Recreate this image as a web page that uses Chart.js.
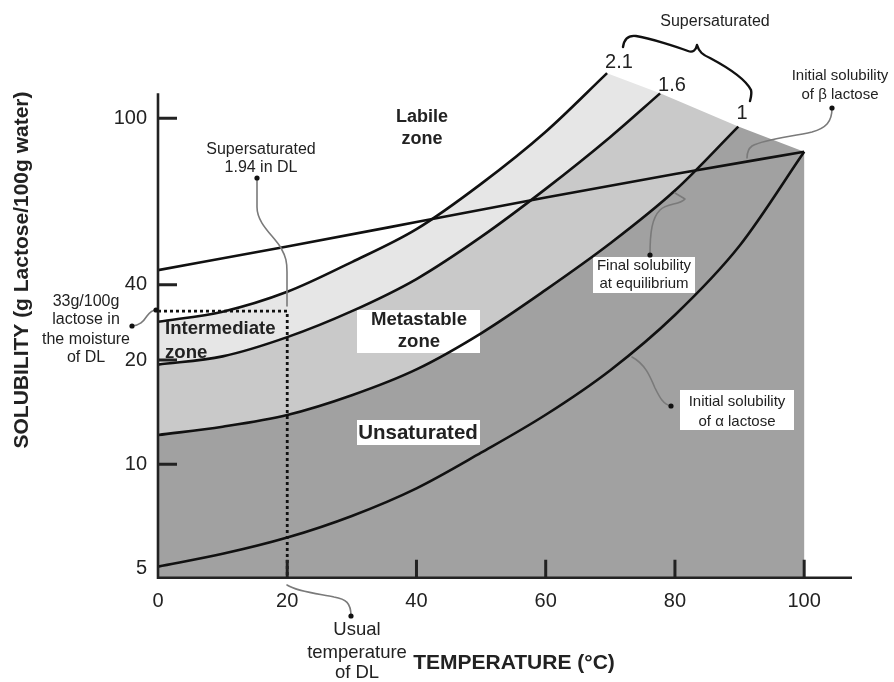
<!DOCTYPE html>
<html>
<head>
<meta charset="utf-8">
<title>Lactose solubility</title>
<script src="https://cdn.jsdelivr.net/npm/chart.js@4.4.0/dist/chart.umd.min.js"></script>
<style>
    body { margin: 0; background: #fff; }
    #wrap { position: relative; width: 894px; height: 682px; }
</style>
</head>
<body>
<div id="wrap"><canvas id="myChart"></canvas></div>
<script>
/*        values: °C against g lactose / 100 g water        */

const alphaTemps = [0, 10, 20, 30, 40, 50, 60, 70, 80, 90, 100];
const alphaSolubility = [5.06, 5.51, 6.14, 7.09, 8.52, 10.8, 13.9, 18.7, 27.0, 42.8, 80];

const eqTemps = [0, 10, 20, 30, 40, 50, 60, 70, 80, 89.8];
const eqSolubility = [12.15, 12.84, 13.88, 15.83, 18.8, 23.9, 31.9, 43.5, 61.8, 94.6];

const ss16Temps = [0, 10, 20, 30, 40, 50, 60, 70, 77.7];
const ss16Solubility = [19.4, 20.5, 23.3, 27.7, 34.3, 45.4, 62.5, 88.3, 118];

const ss21Temps = [0, 10, 20, 30, 40, 50, 60, 69.5];
const ss21Solubility = [25.8, 27.6, 31.5, 38.4, 47.8, 64.6, 91.4, 135];

const betaTemps = [0, 20, 40, 60, 80, 100];
const betaSolubility = [36.4, 42.6, 50.1, 59.0, 69.0, 80];

// dried lactose point (20 °C, supersaturated 1.94)
const dlTemp = 20;
const dlSolubility = 27.7;

const xTicks = [0, 20, 40, 60, 80, 100];
// the printed "40" sits lower than a true log position on the original axis
const yTickAt = [5, 10, 20, 33, 100];
const yTickLabels = ['5', '10', '20', '40', '100'];

const xMax = 107.4;
const yMin = 4.7;
const yMax = 145;
const yAxisTop = 118;

const FONT = '"Liberation Sans", Arial, sans-serif';

function pts(xs, ys) {
    return xs.map(function (x, i) { return {x: x, y: ys[i]}; });
}

function curve(data, order) {
    return {data: data, borderColor: '#111', borderWidth: 2.6, fill: false,
        pointRadius: 0, cubicInterpolationMode: 'monotone', tension: 0.4, order: order};
}

// dataset indexes
const ALPHA = 0, EQ = 1, SS16 = 2, SS21 = 3;

// shaded zones: area under a curve, capped straight across to the end of the next curve down
const bands = [
    {top: SS21, capTo: SS16, color: '#e6e6e6'},
    {top: SS16, capTo: EQ, color: '#c9c9c9'},
    {top: EQ, capTo: ALPHA, color: '#a1a1a1'}
];

/*        annotation layer         */

const boxes = [[357, 310, 123, 43], [357, 420, 123, 25], [593, 257, 102, 36], [680, 390, 114, 40]];

const notes = [
    {t: 'Supersaturated', x: 715, y: 22, s: 16},
    {t: '2.1', x: 619, y: 62, s: 20}, {t: '1.6', x: 672, y: 85, s: 20}, {t: '1', x: 742, y: 113, s: 20},
    {t: 'Initial solubility', x: 840, y: 76, s: 15}, {t: 'of \u03b2 lactose', x: 840, y: 95, s: 15},
    {t: 'Labile', x: 422, y: 117, s: 18, b: true}, {t: 'zone', x: 422, y: 139, s: 18, b: true},
    {t: 'Supersaturated', x: 261, y: 150, s: 16}, {t: '1.94 in DL', x: 261, y: 168, s: 16},
    {t: '33g/100g', x: 86, y: 302, s: 16}, {t: 'lactose in', x: 86, y: 320, s: 16},
    {t: 'the moisture', x: 86, y: 340, s: 16}, {t: 'of DL', x: 86, y: 358, s: 16},
    {t: 'Intermediate', x: 165, y: 329, s: 18.6, b: true, a: 'left'},
    {t: 'zone', x: 165, y: 353, s: 18.6, b: true, a: 'left'},
    {t: 'Metastable', x: 419, y: 320, s: 18.6, b: true}, {t: 'zone', x: 419, y: 342, s: 18.6, b: true},
    {t: 'Unsaturated', x: 418, y: 433, s: 20.5, b: true},
    {t: 'Final solubility', x: 644, y: 266, s: 15}, {t: 'at equilibrium', x: 644, y: 284, s: 15},
    {t: 'Initial solubility', x: 737, y: 402, s: 15}, {t: 'of \u03b1 lactose', x: 737, y: 422, s: 15},
    {t: 'Usual', x: 357, y: 630, s: 18.5}, {t: 'temperature', x: 357, y: 653, s: 18.5},
    {t: 'of DL', x: 357, y: 673, s: 18.5}
];

const leaders = [
    'M257 178 L257 207 C257 224 274 236 281 248 C286 257 287 262 287 272 L287 306',
    'M132 326 C140 325 143 322 147 316 C150 312 152 310 156 310',
    'M287 585 C298 592 320 594 334 597 C346 599 351 603 351 616',
    'M650 255 C650 232 652 218 660 210 C667 203 680 205 685 199 L675 193',
    'M671 406 C663 404 660 398 655 388 C650 376 645 364 632 357',
    'M832 108 C832 122 826 128 812 132 C790 137 765 139 752 146 C748 149 747 152 747 158'
];
const brace = 'M623 47 C624 40 628 35 636 36 C650 38 680 48 688 51 C693 53 696 50 697 45 ' +
    'C699 52 703 55 710 58 C725 66 745 78 751 90 C752 94 751 97 750 101';
const dots = [[257, 178], [132, 326], [156, 310], [351, 616], [650, 255], [671, 406], [832, 108]];

let overlay = {
    id: 'overlay',
    beforeDatasetsDraw: function (chart) {
        let ctx = chart.ctx;
        let area = chart.chartArea;
        ctx.save();
        bands.forEach(function (b) {
            let line = chart.getDatasetMeta(b.top).dataset;
            let first = chart.getDatasetMeta(b.top).data[0];
            let capPts = chart.getDatasetMeta(b.capTo).data;
            let cap = capPts[capPts.length - 1];
            line.updateControlPoints(area, 'x');
            ctx.beginPath();
            line.path(ctx);
            ctx.lineTo(cap.x, cap.y);
            ctx.lineTo(cap.x, area.bottom);
            ctx.lineTo(first.x, area.bottom);
            ctx.closePath();
            ctx.fillStyle = b.color;
            ctx.fill();
        });
        ctx.fillStyle = '#fff';
        boxes.forEach(function (b) { ctx.fillRect(b[0], b[1], b[2], b[3]); });
        ctx.restore();
    },
    afterDatasetsDraw: function (chart) {
        let ctx = chart.ctx;
        let xs = chart.scales.x, ys = chart.scales.y;
        let x0 = xs.getPixelForValue(0);
        let bottom = chart.chartArea.bottom;
        ctx.save();

        // axes with inward ticks
        ctx.strokeStyle = '#222';
        ctx.lineWidth = 2.6;
        ctx.beginPath();
        ctx.moveTo(x0, ys.getPixelForValue(yAxisTop));
        ctx.lineTo(x0, bottom);
        ctx.lineTo(chart.chartArea.right, bottom);
        ctx.stroke();
        ctx.lineWidth = 3;
        ctx.beginPath();
        yTickAt.slice(1).forEach(function (v) {
            let y = ys.getPixelForValue(v);
            ctx.moveTo(x0, y);
            ctx.lineTo(x0 + 19, y);
        });
        xTicks.slice(1).forEach(function (v) {
            let x = xs.getPixelForValue(v);
            ctx.moveTo(x, bottom);
            ctx.lineTo(x, bottom - 18);
        });
        ctx.stroke();

        // leader lines, brace, dots
        ctx.lineCap = 'round';
        ctx.lineJoin = 'round';
        ctx.strokeStyle = '#7a7a7a';
        ctx.lineWidth = 1.6;
        leaders.forEach(function (p) { ctx.stroke(new Path2D(p)); });
        ctx.strokeStyle = '#111';
        ctx.lineWidth = 2.4;
        ctx.stroke(new Path2D(brace));
        ctx.fillStyle = '#111';
        dots.forEach(function (d) {
            ctx.beginPath();
            ctx.arc(d[0], d[1], 2.6, 0, Math.PI * 2);
            ctx.fill();
        });

        // labels
        ctx.fillStyle = '#222';
        ctx.textBaseline = 'middle';
        notes.forEach(function (n) {
            ctx.font = (n.b ? 'bold ' : '') + n.s + 'px ' + FONT;
            ctx.textAlign = n.a || 'center';
            ctx.fillText(n.t, n.x, n.y);
        });

        // axis titles
        ctx.font = 'bold 21px ' + FONT;
        ctx.textAlign = 'center';
        ctx.fillText('TEMPERATURE (\u00b0C)', 514, 663);
        ctx.translate(22, 270);
        ctx.rotate(-Math.PI / 2);
        ctx.fillText('SOLUBILITY (g Lactose/100g water)', 0, 0);
        ctx.restore();
    }
};

let ctx = document.getElementById('myChart').getContext('2d');
let chart = new Chart(ctx, {
    type: 'line',
    data: {
        datasets: [
            curve(pts(alphaTemps, alphaSolubility), 2),
            curve(pts(eqTemps, eqSolubility), 2),
            curve(pts(ss16Temps, ss16Solubility), 2),
            curve(pts(ss21Temps, ss21Solubility), 2),
            curve(pts(betaTemps, betaSolubility), 1),
            {
                data: [{x: 0, y: dlSolubility}, {x: dlTemp, y: dlSolubility}, {x: dlTemp, y: yMin}],
                borderColor: '#111', borderWidth: 2.8, borderDash: [3, 3], fill: false,
                pointRadius: 0, tension: 0, order: 0
            }
        ]
    },
    options: {
        responsive: true,
        maintainAspectRatio: false,
        animation: false,
        events: [],
        layout: {padding: {top: 62.4, right: 42, left: 0, bottom: 0}},
        plugins: {legend: {display: false}, tooltip: {enabled: false}},
        scales: {
            x: {
                type: 'linear', min: 0, max: xMax,
                grid: {display: false, drawTicks: false}, border: {display: false},
                afterBuildTicks: function (s) { s.ticks = xTicks.map(function (v) { return {value: v}; }); },
                afterFit: function (s) { s.height = 104.3; },
                ticks: {autoSkip: false, maxRotation: 0, padding: 12, color: '#222',
                    font: {size: 20, family: FONT}}
            },
            y: {
                type: 'logarithmic', min: yMin, max: yMax,
                grid: {display: false, drawTicks: false}, border: {display: false},
                afterBuildTicks: function (s) { s.ticks = yTickAt.map(function (v) { return {value: v}; }); },
                afterFit: function (s) { s.width = 158; },
                ticks: {autoSkip: false, padding: 11, color: '#222', font: {size: 20, family: FONT},
                    callback: function (v, i) { return yTickLabels[i]; }}
            }
        }
    },
    plugins: [overlay]
});
</script>
</body>
</html>
